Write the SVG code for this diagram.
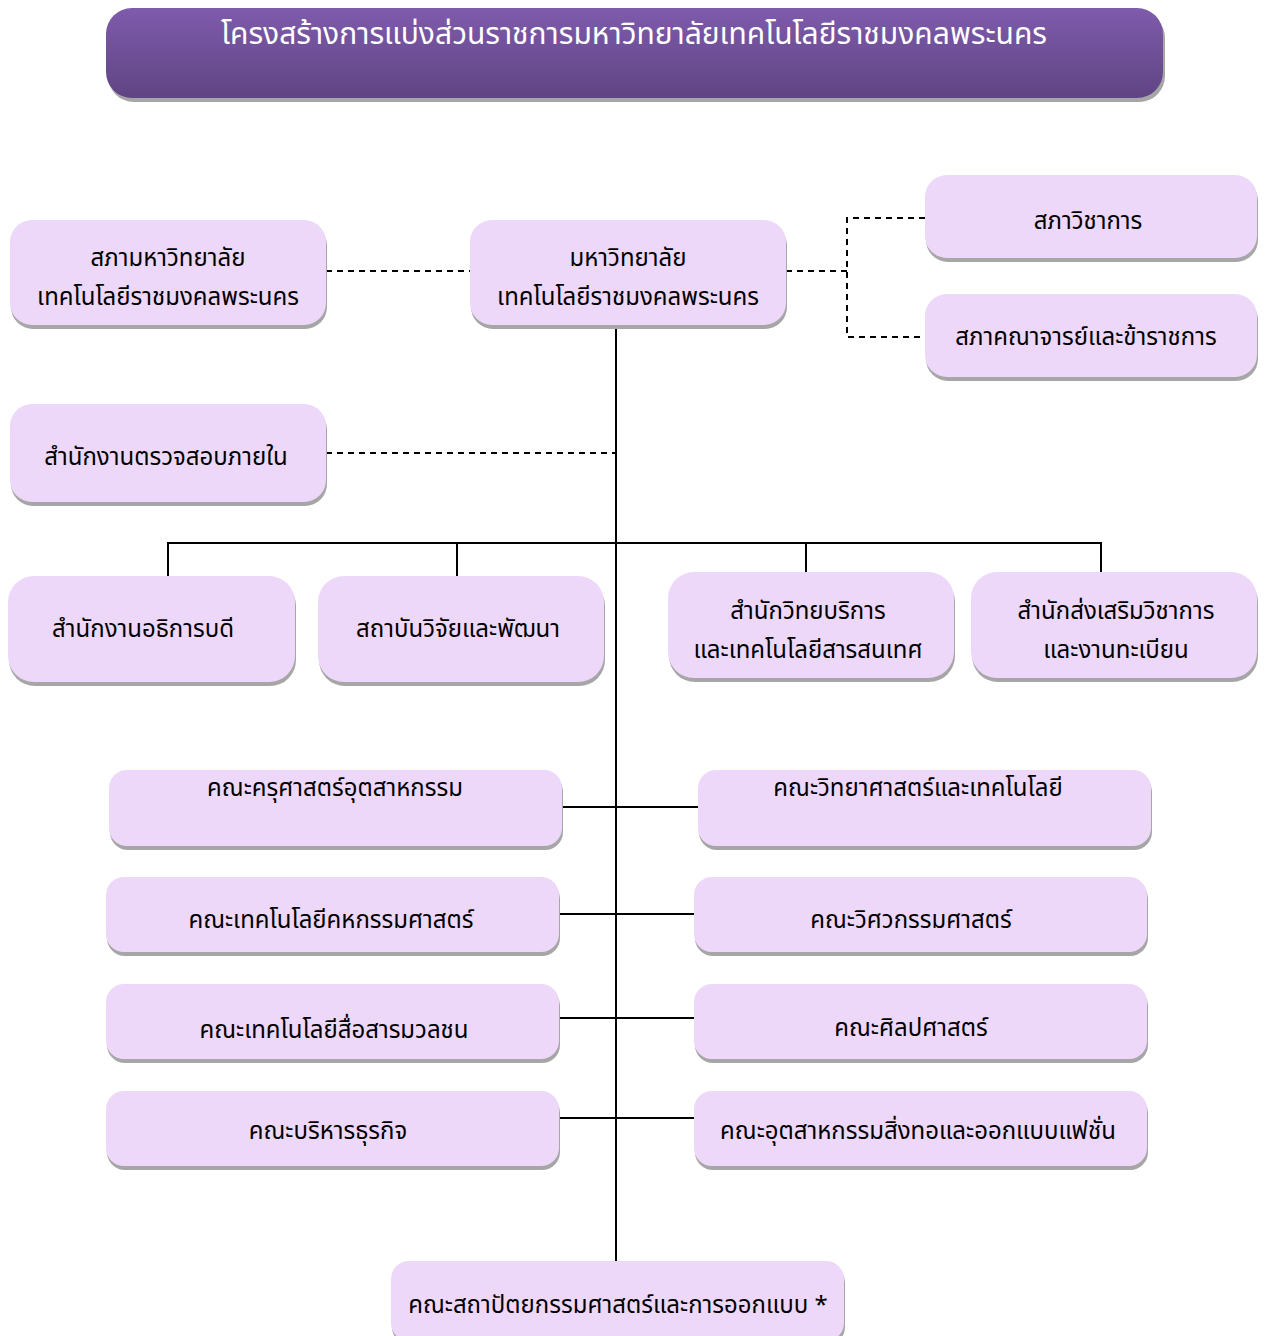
<svg xmlns="http://www.w3.org/2000/svg" width="1265" height="1336" viewBox="0 0 1265 1336">
<defs>
<linearGradient id="tg" x1="0" y1="0" x2="0" y2="1">
<stop offset="0" stop-color="#7F5BAC"/>
<stop offset="1" stop-color="#5F4483"/>
</linearGradient>
<style>
.sh{fill:#A6A6A6}
.bx{fill:#EDD8FA}
.t{font-family:"Noto Sans Thai","Noto Sans","DejaVu Sans",sans-serif;font-size:24px;fill:#000;text-anchor:middle}
.tt{font-family:"Noto Sans Thai","Noto Sans","DejaVu Sans",sans-serif;font-size:30px;fill:#fff;text-anchor:middle}
.ln{stroke:#000;stroke-width:2;fill:none}
.dl{stroke:#000;stroke-width:2;fill:none;stroke-dasharray:6 5}
</style>
</defs>
<rect width="1265" height="1336" fill="#fff"/>
<g id="title">
<rect x="108" y="12" width="1057" height="90" rx="26" fill="#A6A6A6"/>
<rect x="106" y="8" width="1057" height="90" rx="26" fill="url(#tg)"/>
<text class="tt" x="634" y="44">โครงสร้างการแบ่งส่วนราชการมหาวิทยาลัยเทคโนโลยีราชมงคลพระนคร</text>
</g>
<g id="connectors">
<line class="dl" x1="326" y1="271" x2="470" y2="271"/>
<line class="dl" x1="786" y1="271" x2="847" y2="271"/>
<path class="dl" d="M925 218 H847 V337 H925"/>
<line class="ln" x1="616" y1="325" x2="616" y2="1261"/>
<line class="dl" x1="326" y1="453" x2="616" y2="453"/>
<line class="ln" x1="167" y1="543" x2="1102" y2="543"/>
<line class="ln" x1="168" y1="543" x2="168" y2="576"/>
<line class="ln" x1="457" y1="543" x2="457" y2="576"/>
<line class="ln" x1="806" y1="543" x2="806" y2="572"/>
<line class="ln" x1="1101" y1="543" x2="1101" y2="572"/>
<line class="ln" x1="562" y1="807" x2="698" y2="807"/>
<line class="ln" x1="559" y1="914" x2="694" y2="914"/>
<line class="ln" x1="559" y1="1018" x2="694" y2="1018"/>
<line class="ln" x1="559" y1="1118" x2="694" y2="1118"/>
</g>
<g id="n-council">
<rect class="sh" x="11" y="224" width="316" height="105" rx="22"/>
<rect class="bx" x="10" y="220" width="316" height="105" rx="22"/>
<text class="t" x="168" y="266">สภามหาวิทยาลัย</text>
<text class="t" x="168" y="305">เทคโนโลยีราชมงคลพระนคร</text>
</g>
<g id="n-univ">
<rect class="sh" x="471" y="224" width="316" height="105" rx="22"/>
<rect class="bx" x="470" y="220" width="316" height="105" rx="22"/>
<text class="t" x="628" y="266">มหาวิทยาลัย</text>
<text class="t" x="628" y="305">เทคโนโลยีราชมงคลพระนคร</text>
</g>
<g id="n-academic">
<rect class="sh" x="926" y="179" width="332" height="83" rx="22"/>
<rect class="bx" x="925" y="175" width="332" height="83" rx="22"/>
<text class="t" x="1088" y="229">สภาวิชาการ</text>
</g>
<g id="n-faculty-senate">
<rect class="sh" x="926" y="298" width="332" height="83" rx="22"/>
<rect class="bx" x="925" y="294" width="332" height="83" rx="22"/>
<text class="t" x="1086" y="345">สภาคณาจารย์และข้าราชการ</text>
</g>
<g id="n-audit">
<rect class="sh" x="11" y="408" width="316" height="98" rx="22"/>
<rect class="bx" x="10" y="404" width="316" height="98" rx="22"/>
<text class="t" x="166" y="465">สำนักงานตรวจสอบภายใน</text>
</g>
<g id="n-president">
<rect class="sh" x="9" y="580" width="287" height="106" rx="26"/>
<rect class="bx" x="8" y="576" width="287" height="106" rx="26"/>
<text class="t" x="143" y="637">สำนักงานอธิการบดี</text>
</g>
<g id="n-research">
<rect class="sh" x="319" y="580" width="286" height="106" rx="26"/>
<rect class="bx" x="318" y="576" width="286" height="106" rx="26"/>
<text class="t" x="458" y="637">สถาบันวิจัยและพัฒนา</text>
</g>
<g id="n-library">
<rect class="sh" x="669" y="576" width="286" height="106" rx="26"/>
<rect class="bx" x="668" y="572" width="286" height="106" rx="26"/>
<text class="t" x="808" y="619">สำนักวิทยบริการ</text>
<text class="t" x="808" y="658">และเทคโนโลยีสารสนเทศ</text>
</g>
<g id="n-registrar">
<rect class="sh" x="972" y="576" width="286" height="106" rx="26"/>
<rect class="bx" x="971" y="572" width="286" height="106" rx="26"/>
<text class="t" x="1116" y="619">สำนักส่งเสริมวิชาการ</text>
<text class="t" x="1116" y="658">และงานทะเบียน</text>
</g>
<g id="n-f-edu">
<rect class="sh" x="110" y="774" width="453" height="76" rx="18"/>
<rect class="bx" x="109" y="770" width="453" height="76" rx="18"/>
<text class="t" x="335" y="796">คณะครุศาสตร์อุตสาหกรรม</text>
</g>
<g id="n-f-sci">
<rect class="sh" x="699" y="774" width="453" height="76" rx="18"/>
<rect class="bx" x="698" y="770" width="453" height="76" rx="18"/>
<text class="t" x="918" y="796">คณะวิทยาศาสตร์และเทคโนโลยี</text>
</g>
<g id="n-f-home">
<rect class="sh" x="107" y="881" width="453" height="75" rx="18"/>
<rect class="bx" x="106" y="877" width="453" height="75" rx="18"/>
<text class="t" x="331" y="928">คณะเทคโนโลยีคหกรรมศาสตร์</text>
</g>
<g id="n-f-eng">
<rect class="sh" x="695" y="881" width="453" height="75" rx="18"/>
<rect class="bx" x="694" y="877" width="453" height="75" rx="18"/>
<text class="t" x="911" y="928">คณะวิศวกรรมศาสตร์</text>
</g>
<g id="n-f-mass">
<rect class="sh" x="107" y="988" width="453" height="75" rx="18"/>
<rect class="bx" x="106" y="984" width="453" height="75" rx="18"/>
<text class="t" x="334" y="1038">คณะเทคโนโลยีสื่อสารมวลชน</text>
</g>
<g id="n-f-arts">
<rect class="sh" x="695" y="988" width="453" height="75" rx="18"/>
<rect class="bx" x="694" y="984" width="453" height="75" rx="18"/>
<text class="t" x="911" y="1036">คณะศิลปศาสตร์</text>
</g>
<g id="n-f-bus">
<rect class="sh" x="107" y="1095" width="453" height="75" rx="18"/>
<rect class="bx" x="106" y="1091" width="453" height="75" rx="18"/>
<text class="t" x="328" y="1139">คณะบริหารธุรกิจ</text>
</g>
<g id="n-f-textile">
<rect class="sh" x="695" y="1095" width="453" height="75" rx="18"/>
<rect class="bx" x="694" y="1091" width="453" height="75" rx="18"/>
<text class="t" x="918" y="1139">คณะอุตสาหกรรมสิ่งทอและออกแบบแฟชั่น</text>
</g>
<g id="n-f-arch">
<rect class="sh" x="392" y="1265" width="453" height="80" rx="18"/>
<rect class="bx" x="391" y="1261" width="453" height="80" rx="18"/>
<text class="t" x="618" y="1313">คณะสถาปัตยกรรมศาสตร์และการออกแบบ *</text>
</g>
</svg>
